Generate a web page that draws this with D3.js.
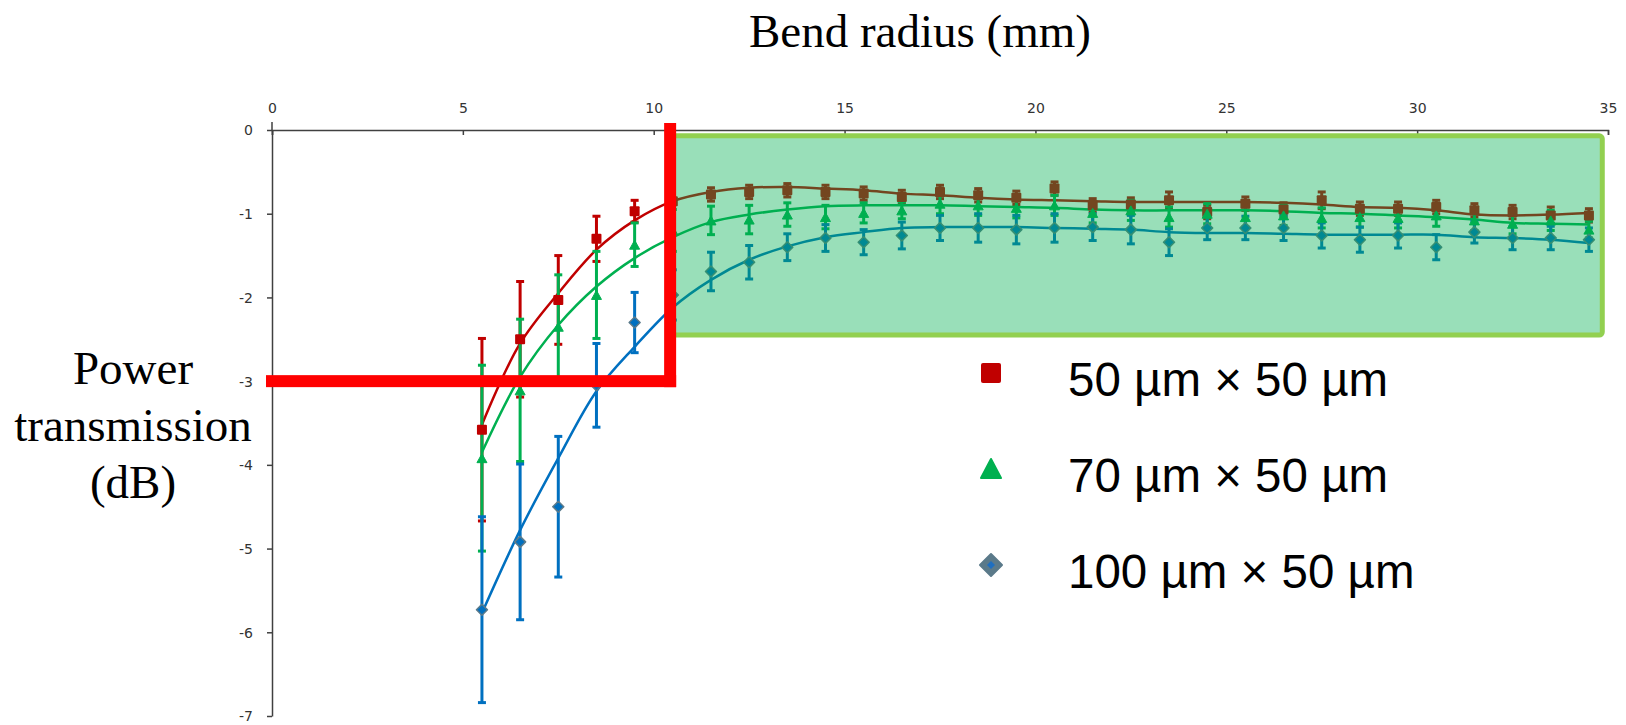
<!DOCTYPE html>
<html>
<head>
<meta charset="utf-8">
<script src="https://cdn.jsdelivr.net/npm/d3@7/dist/d3.min.js"></script>
<style>
  html, body { margin: 0; padding: 0; background: #fff; }
  svg { display: block; }
</style>
</head>
<body>
<svg id="chart" width="1626" height="725"></svg>
<script>
// ---------------- data ----------------
const radius = [5.5, 6.5, 7.5, 8.5, 9.5, 10.5, 11.5, 12.5, 13.5, 14.5, 15.5, 16.5, 17.5, 18.5, 19.5,
                20.5, 21.5, 22.5, 23.5, 24.5, 25.5, 26.5, 27.5, 28.5, 29.5, 30.5, 31.5, 32.5, 33.5, 34.5];

const red50 = [-3.58, -2.50, -2.03, -1.30, -0.97, -0.85, -0.77, -0.74, -0.72, -0.74, -0.76, -0.80, -0.74, -0.78, -0.81,
               -0.70, -0.90, -0.89, -0.84, -0.98, -0.88, -0.95, -0.84, -0.94, -0.94, -0.92, -0.96, -0.98, -1.02, -1.02];
const red50Err = [1.09, 0.69, 0.53, 0.27, 0.13, 1.60, 0.08, 0.08, 0.08, 0.08, 0.08, 0.08, 0.08, 0.08, 0.08,
                  0.08, 0.08, 0.08, 0.10, 0.08, 0.08, 0.08, 0.10, 0.08, 0.08, 0.08, 0.08, 0.08, 0.10, 0.08];
const red50Fit = [-3.52, -2.55, -1.95, -1.43, -1.08, -0.85, -0.74, -0.69, -0.68, -0.70, -0.72, -0.76, -0.78, -0.81, -0.83,
                  -0.84, -0.85, -0.86, -0.86, -0.86, -0.86, -0.87, -0.89, -0.92, -0.93, -0.96, -1.01, -1.02, -1.01, -0.99];

const green70 = [-3.92, -3.11, -2.35, -1.97, -1.37, -1.20, -1.08, -1.07, -1.01, -1.04, -0.99, -0.96, -0.88, -0.90, -0.93,
                 -0.90, -0.99, -0.96, -1.04, -1.00, -1.04, -1.02, -1.05, -1.04, -1.05, -1.02, -1.08, -1.12, -1.08, -1.19];
const green70Err = [1.11, 0.85, 0.62, 0.52, 0.26, 0.25, 0.17, 0.17, 0.14, 0.14, 0.12, 0.10, 0.12, 0.12, 0.12,
                    0.12, 0.12, 0.12, 0.12, 0.12, 0.12, 0.12, 0.12, 0.12, 0.12, 0.13, 0.12, 0.12, 0.12, 0.10];
const green70Fit = [-3.85, -2.95, -2.33, -1.87, -1.53, -1.28, -1.10, -1.01, -0.95, -0.91, -0.90, -0.90, -0.90, -0.91, -0.92,
                    -0.93, -0.95, -0.96, -0.96, -0.96, -0.96, -0.97, -0.99, -1.00, -1.02, -1.04, -1.07, -1.11, -1.12, -1.13];

const blue100 = [-5.73, -4.92, -4.50, -3.05, -2.30, -1.97, -1.69, -1.58, -1.40, -1.29, -1.34, -1.26, -1.17, -1.17, -1.19,
                 -1.17, -1.16, -1.19, -1.34, -1.17, -1.17, -1.17, -1.26, -1.31, -1.26, -1.40, -1.22, -1.29, -1.29, -1.31];
const blue100Err = [1.11, 0.93, 0.84, 0.50, 0.36, 0.30, 0.23, 0.20, 0.16, 0.16, 0.15, 0.16, 0.15, 0.17, 0.17,
                    0.17, 0.16, 0.17, 0.16, 0.14, 0.14, 0.15, 0.15, 0.15, 0.15, 0.15, 0.13, 0.14, 0.14, 0.14];
const blue100Fit = [-5.77, -4.78, -3.92, -3.12, -2.59, -2.12, -1.79, -1.55, -1.39, -1.28, -1.22, -1.17, -1.16, -1.16, -1.16,
                    -1.17, -1.18, -1.19, -1.22, -1.23, -1.23, -1.24, -1.25, -1.25, -1.25, -1.25, -1.28, -1.29, -1.31, -1.35];

const xTicks = [0, 5, 10, 15, 20, 25, 30, 35];
const yTicks = [0, -1, -2, -3, -4, -5, -6, -7];
const legendLabels = ["50 µm × 50 µm", "70 µm × 50 µm", "100 µm × 50 µm"];
const xTitle = "Bend radius (mm)";
const yTitleLines = ["Power", "transmission", "(dB)"];
// annotation: -3 dB threshold and the minimum bend radius, and the stable region
const thresholdDb = -3;
const minRadius = 10.43;
const stableRegion = { x0: 10.38, x1: 34.85, y0: -0.07, y1: -2.45 };

// ---------------- drawing ----------------
const svg = d3.select("#chart");
const x = d3.scaleLinear().domain([0, 35]).range([272, 1608]);
const y = d3.scaleLinear().domain([0, -7]).range([130, 716]);

const series = [
  { name: legendLabels[0], vals: red50, err: red50Err, fit: red50Fit, color: "#C00000", shape: "square" },
  { name: legendLabels[1], vals: green70, err: green70Err, fit: green70Fit, color: "#00B050", shape: "triangle" },
  { name: legendLabels[2], vals: blue100, err: blue100Err, fit: blue100Fit, color: "#0070C0", shape: "diamond" }
];

// axes
const axisColor = "#404040";
const fmt = d => String(d);
const gx = svg.append("g").attr("transform", `translate(0,${y(0)})`)
  .call(d3.axisTop(x).tickValues(xTicks).tickFormat(fmt)
        .tickSizeInner(-5).tickSizeOuter(-5).tickPadding(17));
const gy = svg.append("g").attr("transform", `translate(${x(0)},0)`)
  .call(d3.axisLeft(y).tickValues(yTicks).tickFormat(fmt)
        .tickSizeInner(5).tickSizeOuter(0).tickPadding(14));
[gx, gy].forEach(g => {
  g.select(".domain").attr("stroke", axisColor).attr("stroke-width", 1.5);
  g.selectAll(".tick line").attr("stroke", axisColor).attr("stroke-width", 1.5);
  g.selectAll(".tick text").attr("fill", "#333").style("font-family", "'DejaVu Sans', 'Liberation Sans', sans-serif").style("font-size", "14px");
});
gy.selectAll(".tick text").attr("dy", "0.35em");
// y axis extends a little above the x axis
svg.append("line").attr("x1", x(0)).attr("x2", x(0)).attr("y1", y(0) - 8).attr("y2", y(0))
  .attr("stroke", axisColor).attr("stroke-width", 1.5);

// clip for data to the plot area (values <= 0)
svg.append("defs").append("clipPath").attr("id", "plotClip")
  .append("rect").attr("x", x(0)).attr("y", y(0)).attr("width", x(35) - x(0) + 20).attr("height", y(-7) - y(0) + 10);

const dataG = svg.append("g").attr("clip-path", "url(#plotClip)");

const line = d3.line().x((d, i) => x(radius[i])).y(d => y(d)).curve(d3.curveCatmullRom.alpha(0.5));

series.forEach(s => {
  const g = dataG.append("g");
  // fit line
  g.append("path").datum(s.fit).attr("d", line)
    .attr("fill", "none").attr("stroke", s.color).attr("stroke-width", 2.5);
  // error bars
  const eb = g.selectAll(".eb").data(s.vals).enter().append("g");
  eb.append("line")
    .attr("x1", (d, i) => x(radius[i])).attr("x2", (d, i) => x(radius[i]))
    .attr("y1", (d, i) => y(d + s.err[i])).attr("y2", (d, i) => y(d - s.err[i]))
    .attr("stroke", s.color).attr("stroke-width", 3);
  [1, -1].forEach(sign => {
    eb.append("line")
      .attr("x1", (d, i) => x(radius[i]) - 4).attr("x2", (d, i) => x(radius[i]) + 4)
      .attr("y1", (d, i) => y(d + sign * s.err[i])).attr("y2", (d, i) => y(d + sign * s.err[i]))
      .attr("stroke", s.color).attr("stroke-width", 3);
  });
});

function drawMarker(g, shape, cx, cy, size, color) {
  if (shape === "square") {
    g.append("rect").attr("x", cx - size / 2).attr("y", cy - size / 2)
      .attr("width", size).attr("height", size).attr("rx", size * 0.1).attr("fill", color);
  } else if (shape === "triangle") {
    const h = size * 0.9;
    g.append("path").attr("d", `M${cx},${cy - h / 2} L${cx + size / 2},${cy + h / 2} L${cx - size / 2},${cy + h / 2} Z`)
      .attr("fill", color).attr("stroke", color).attr("stroke-width", 1).attr("stroke-linejoin", "round");
  } else {
    const r = size / 2;
    g.append("path").attr("d", `M${cx},${cy - r} L${cx + r},${cy} L${cx},${cy + r} L${cx - r},${cy} Z`)
      .attr("fill", color).attr("stroke", "#5B7A8A").attr("stroke-width", 1.5).attr("stroke-linejoin", "round");
  }
}

series.forEach(s => {
  const g = dataG.append("g");
  s.vals.forEach((v, i) => drawMarker(g, s.shape, x(radius[i]), y(v), s.shape === "diamond" ? 11 : 10, s.color));
});

// stable region box (semi-transparent green overlay)
svg.append("rect")
  .attr("x", x(stableRegion.x0)).attr("y", y(stableRegion.y0))
  .attr("width", x(stableRegion.x1) - x(stableRegion.x0))
  .attr("height", y(stableRegion.y1) - y(stableRegion.y0))
  .attr("rx", 3)
  .attr("fill", "#00B050").attr("fill-opacity", 0.4)
  .attr("stroke", "#92D050").attr("stroke-width", 5);

// red threshold lines
const redW = 12;
svg.append("rect")
  .attr("x", x(minRadius) - redW / 2).attr("y", y(0) - 7)
  .attr("width", redW).attr("height", y(thresholdDb) + redW / 2 - (y(0) - 7))
  .attr("fill", "#FF0000");
svg.append("rect")
  .attr("x", x(0) - 6).attr("y", y(thresholdDb) - redW / 2)
  .attr("width", x(minRadius) + redW / 2 - (x(0) - 6)).attr("height", redW)
  .attr("fill", "#FF0000");

// titles
svg.append("text").attr("x", 920).attr("y", 47).attr("text-anchor", "middle")
  .style("font-family", "'Liberation Serif', 'Times New Roman', serif").style("font-size", "47px")
  .attr("fill", "#000").text(xTitle);
yTitleLines.forEach((t, i) => {
  svg.append("text").attr("x", 133).attr("y", 384 + i * 57).attr("text-anchor", "middle")
    .style("font-family", "'Liberation Serif', 'Times New Roman', serif").style("font-size", "47px")
    .attr("fill", "#000").text(t);
});

// legend
const legendG = svg.append("g");
const legendShapes = ["square", "triangle", "diamond"];
const legendColors = ["#C00000", "#00B050", "#0070C0"];
legendLabels.forEach((lab, i) => {
  const cy = 373 + i * 96;
  if (legendShapes[i] === "diamond") {
    const r = 11;
    legendG.append("path").attr("d", `M991,${cy - r} L${991 + r},${cy} L991,${cy + r} L${991 - r},${cy} Z`)
      .attr("fill", "#5B7A8A").attr("stroke", "#5B7A8A").attr("stroke-linejoin", "round").attr("stroke-width", 2);
    legendG.append("path").attr("d", `M991,${cy - 4} L995,${cy} L991,${cy + 4} L987,${cy} Z`).attr("fill", "#1F6FC0");
  } else if (legendShapes[i] === "square") {
    legendG.append("rect").attr("x", 981).attr("y", cy - 10).attr("width", 20).attr("height", 20)
      .attr("rx", 2).attr("fill", legendColors[i]);
  } else {
    legendG.append("path").attr("d", `M991,${cy - 10} L1001,${cy + 9} L981,${cy + 9} Z`)
      .attr("fill", legendColors[i]).attr("stroke", legendColors[i]).attr("stroke-width", 2).attr("stroke-linejoin", "round");
  }
  legendG.append("text").attr("x", 1068).attr("y", cy + 23)
    .style("font-family", "'Liberation Sans', Arial, sans-serif").style("font-size", "47.5px")
    .attr("fill", "#000").text(lab);
});
</script>
</body>
</html>
